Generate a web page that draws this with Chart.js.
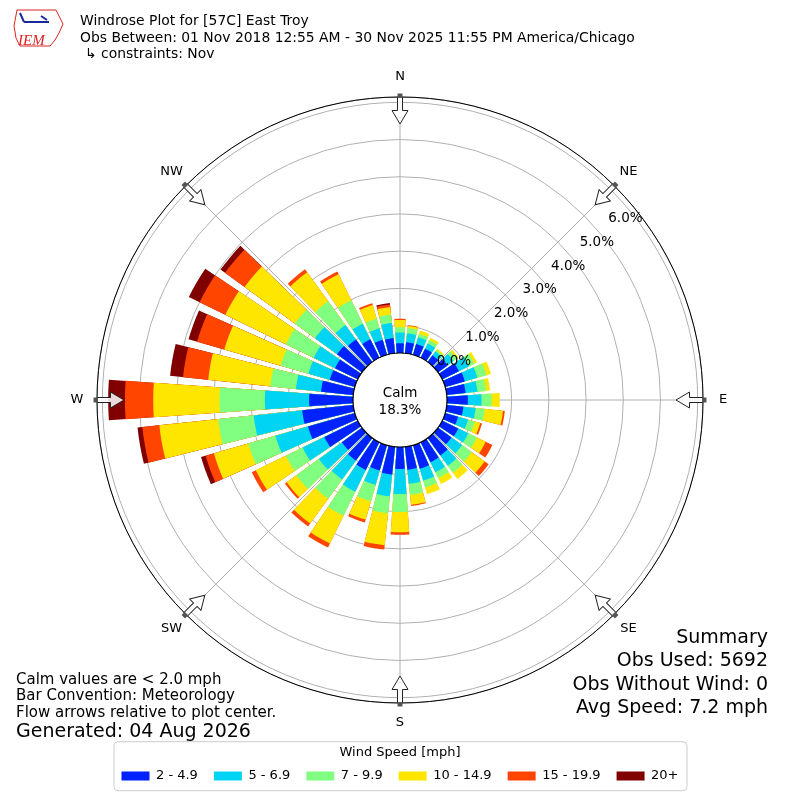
<!DOCTYPE html>
<html>
<head>
<meta charset="utf-8">
<script src="https://cdn.jsdelivr.net/npm/chart.js@4.4.0/dist/chart.umd.min.js"></script>
<style>
  html, body { margin: 0; padding: 0; background: #fff; }
</style>
</head>
<body>
<canvas id="rose" width="800" height="800"></canvas>
<script>
// wind direction bins (degrees, direction the wind blows from)
const directions = [0, 10, 20, 30, 40, 50, 60, 70, 80, 90, 100, 110, 120, 130, 140, 150, 160, 170,
  180, 190, 200, 210, 220, 230, 240, 250, 260, 270, 280, 290, 300, 310, 320, 330, 340, 350];
const speedBins = ['2 - 4.9', '5 - 6.9', '7 - 9.9', '10 - 14.9', '15 - 19.9', '20+'];
const binColors = ['#0022ff', '#00d4f4', '#80ff80', '#ffe600', '#ff4500', '#800000'];

// percent of all observations, per direction, per speed bin
const pct2to5 = [0.26, 0.30, 0.30, 0.27, 0.22, 0.32, 0.50, 0.55, 0.51, 0.56, 0.45, 0.36, 0.48, 0.45, 0.58, 0.60, 0.66, 0.62,
  0.59, 0.75, 0.71, 0.83, 0.75, 0.67, 1.00, 1.31, 1.38, 1.18, 0.87, 0.70, 0.68, 0.83, 0.75, 0.55, 0.42, 0.41];
const pct5to7 = [0.29, 0.24, 0.19, 0.16, 0.13, 0.20, 0.31, 0.35, 0.32, 0.37, 0.33, 0.28, 0.30, 0.35, 0.34, 0.30, 0.33, 0.38,
  0.67, 0.59, 0.40, 0.65, 0.63, 0.76, 0.65, 0.91, 1.31, 1.19, 0.68, 0.60, 0.64, 0.73, 0.48, 0.47, 0.32, 0.41];
const pct7to10 = [0.14, 0.14, 0.09, 0.10, 0.05, 0.10, 0.15, 0.25, 0.23, 0.27, 0.25, 0.19, 0.26, 0.32, 0.23, 0.17, 0.19, 0.30,
  0.49, 0.46, 0.46, 0.72, 0.64, 0.75, 0.50, 0.76, 0.96, 1.22, 0.69, 0.77, 0.83, 0.67, 0.79, 0.70, 0.27, 0.22];
const pct10to15 = [0.20, 0.06, 0.10, 0.07, 0.04, 0.06, 0.08, 0.13, 0.11, 0.22, 0.49, 0.15, 0.26, 0.43, 0.21, 0.18, 0.19, 0.27,
  0.54, 0.86, 0.51, 0.83, 0.82, 0.32, 0.90, 0.96, 1.59, 1.78, 1.68, 1.58, 1.81, 1.67, 0.96, 0.78, 0.38, 0.21];
const pct15to20 = [0.03, 0.02, 0, 0, 0, 0, 0, 0, 0, 0, 0.05, 0.05, 0.20, 0.13, 0, 0, 0, 0.03,
  0.07, 0.12, 0.08, 0.12, 0.10, 0.06, 0.12, 0.23, 0.46, 0.76, 0.68, 0.76, 0.77, 0.65, 0.10, 0.08, 0.05, 0.07];
const pct20up = [0, 0, 0, 0, 0, 0, 0, 0, 0, 0, 0, 0, 0, 0, 0, 0, 0, 0,
  0, 0, 0, 0, 0, 0, 0, 0.13, 0.13, 0.45, 0.35, 0.24, 0.32, 0.15, 0, 0, 0, 0.04];

const compassLabels = ['N', 'NE', 'E', 'SE', 'S', 'SW', 'W', 'NW'];
const ringTicks = [0, 1, 2, 3, 4, 5, 6];
const calmPct = 18.3;

const titleLines = ['Windrose Plot for [57C] East Troy',
  'Obs Between: 01 Nov 2018 12:55 AM - 30 Nov 2025 11:55 PM America/Chicago',
  '\u21b3 constraints: Nov'];
const noteLines = ['Calm values are < 2.0 mph', 'Bar Convention: Meteorology', 'Flow arrows relative to plot center.'];
const generatedText = 'Generated: 04 Aug 2026';
const summaryLines = ['Summary', 'Obs Used: 5692', 'Obs Without Wind: 0', 'Avg Speed: 7.2 mph'];

const FONT = "'DejaVu Sans', sans-serif";
Chart.defaults.font.family = FONT;
Chart.defaults.color = '#000';

// each direction gets an 8 degree bar and a 2 degree gap; north is split in two halves
const slotDir = [0];
const slotAngle = [4];
for (let k = 1; k < directions.length; k++) {
  slotDir.push(-1); slotAngle.push(2);
  slotDir.push(k); slotAngle.push(8);
}
slotDir.push(-1); slotAngle.push(2);
slotDir.push(0); slotAngle.push(4);

const bins = [pct2to5, pct5to7, pct7to10, pct10to15, pct15to20, pct20up];
// stacked: each bar reaches the running total of its bin
const stacked = bins.map((_, b) => directions.map((d, k) => {
  let s = 0;
  for (let j = 0; j <= b; j++) s += bins[j][k];
  return Math.round(s * 100) / 100;
}));

const datasets = bins.map((arr, b) => ({
  label: speedBins[b],
  data: slotDir.map(k => (k < 0 || arr[k] === 0) ? 0 : stacked[b][k]),
  backgroundColor: slotDir.map(k => k < 0 ? 'rgba(0,0,0,0)' : binColors[b]),
  angle: slotAngle,
  borderWidth: 0
}));

function drawArrow(ctx, cx, cy, ang, outer) {
  ctx.save();
  ctx.translate(cx, cy);
  ctx.rotate(ang);
  ctx.beginPath();
  ctx.moveTo(outer, -2.5);
  ctx.lineTo(outer - 13.5, -2.5);
  ctx.lineTo(outer - 13.5, -8);
  ctx.lineTo(outer - 27, 0);
  ctx.lineTo(outer - 13.5, 8);
  ctx.lineTo(outer - 13.5, 2.5);
  ctx.lineTo(outer, 2.5);
  ctx.closePath();
  ctx.fillStyle = 'rgba(255,255,255,0.85)';
  ctx.fill();
  ctx.strokeStyle = '#222';
  ctx.lineWidth = 1;
  ctx.stroke();
  ctx.fillStyle = '#555';
  ctx.fillRect(outer - 1, -2.5, 4.5, 5);
  ctx.restore();
}

function drawLogo(ctx) {
  ctx.save();
  ctx.strokeStyle = '#d22';
  ctx.lineWidth = 1;
  ctx.beginPath();
  ctx.moveTo(17, 10); ctx.lineTo(56, 10); ctx.lineTo(59, 16); ctx.lineTo(63, 24);
  ctx.lineTo(59, 33); ctx.lineTo(55, 40); ctx.lineTo(50, 46); ctx.lineTo(20, 46);
  ctx.lineTo(16, 38); ctx.lineTo(14, 26); ctx.closePath();
  ctx.stroke();
  ctx.strokeStyle = '#1a2a9a';
  ctx.lineWidth = 2;
  ctx.beginPath();
  ctx.moveTo(24, 22); ctx.lineTo(49, 22);
  ctx.moveTo(20, 13); ctx.lineTo(24, 22);
  ctx.moveTo(41, 16); ctx.lineTo(47, 20);
  ctx.stroke();
  ctx.fillStyle = '#d22';
  ctx.font = "italic 15px 'Liberation Serif', serif";
  ctx.textAlign = 'left';
  ctx.textBaseline = 'alphabetic';
  ctx.fillText('IEM', 18, 45);
  ctx.restore();
}

const decorations = {
  id: 'decorations',
  afterDraw(chart) {
    const ctx = chart.ctx;
    const r = chart.scales.r;
    const cx = r.xCenter, cy = r.yCenter;
    const outer = r.drawingArea;
    ctx.save();

    // outer frame of the polar axes
    ctx.beginPath();
    ctx.arc(cx, cy, outer, 0, 2 * Math.PI);
    ctx.strokeStyle = '#000';
    ctx.lineWidth = 1;
    ctx.stroke();

    // compass arrows and labels
    ctx.font = '13px ' + FONT;
    ctx.textAlign = 'center';
    ctx.textBaseline = 'middle';
    compassLabels.forEach((lab, i) => {
      drawArrow(ctx, cx, cy, r.getIndexAngle(i) - Math.PI / 2, outer);
      const p = r.getPointPosition(i, outer + 20);
      ctx.fillStyle = '#000';
      ctx.fillText(lab, p.x, p.y);
    });

    // calm circle
    const calmR = r.getDistanceFromCenterForValue(0);
    ctx.beginPath();
    ctx.arc(cx, cy, calmR, 0, 2 * Math.PI);
    ctx.fillStyle = '#fff';
    ctx.fill();
    ctx.strokeStyle = '#000';
    ctx.lineWidth = 1.2;
    ctx.stroke();
    ctx.fillStyle = '#000';
    ctx.font = '13.5px ' + FONT;
    ctx.textBaseline = 'alphabetic';
    ctx.fillText('Calm', cx, cy - 3);
    ctx.fillText(calmPct.toFixed(1) + '%', cx, cy + 14);

    // ring labels
    ctx.textBaseline = 'middle';
    const la = (50.2 - 90) * Math.PI / 180;
    ringTicks.forEach(v => {
      const d = r.getDistanceFromCenterForValue(v);
      ctx.fillText(v.toFixed(1) + '%', cx + d * Math.cos(la) + 17.8, cy + d * Math.sin(la) - 8.6);
    });

    // header
    drawLogo(ctx);
    ctx.textAlign = 'left';
    ctx.textBaseline = 'alphabetic';
    ctx.font = '13.9px ' + FONT;
    ctx.fillText(titleLines[0], 80, 24.5);
    ctx.fillText(titleLines[1], 80, 41.5);
    ctx.fillText(titleLines[2], 85, 57.5);

    // notes bottom left
    ctx.font = '15px ' + FONT;
    noteLines.forEach((t, i) => ctx.fillText(t, 16, 683.5 + i * 16.6));
    ctx.font = '19px ' + FONT;
    ctx.fillText(generatedText, 16, 736.5);

    // summary bottom right
    ctx.textAlign = 'right';
    summaryLines.forEach((t, i) => ctx.fillText(t, 768, 643 + i * 23.3));

    // legend frame
    const lg = chart.legend;
    const hb = lg.legendHitBoxes;
    if (hb && hb.length) {
      const x0 = hb[0].left - 8;
      const x1 = hb[hb.length - 1].left + hb[hb.length - 1].width + 8;
      ctx.beginPath();
      ctx.roundRect(x0 + 0.5, lg.top - 1.5, x1 - x0, 49, 4);
      ctx.strokeStyle = '#cccccc';
      ctx.lineWidth = 1;
      ctx.stroke();
    }
    ctx.restore();
  }
};

new Chart(document.getElementById('rose'), {
  type: 'polarArea',
  data: { labels: compassLabels, datasets: datasets },
  options: {
    responsive: false,
    animation: false,
    devicePixelRatio: 1,
    layout: { padding: { top: 57, left: 97, right: 97, bottom: 7.5 } },
    scales: {
      r: {
        type: 'radialLinear',
        min: -1.263,
        max: 6.88,
        bounds: 'data',
        startAngle: 0,
        z: 1,
        ticks: { display: false, stepSize: 1, includeBounds: false },
        grid: {
          circular: true,
          lineWidth: 1,
          color: ctx => (ctx.tick && ctx.tick.value < 0) ? 'rgba(0,0,0,0)' : '#b0b0b0'
        },
        angleLines: { display: true, color: '#b0b0b0', lineWidth: 1 },
        pointLabels: { display: false }
      }
    },
    plugins: {
      tooltip: { enabled: false },
      legend: {
        position: 'bottom',
        onClick: () => {},
        title: {
          display: true,
          text: 'Wind Speed [mph]',
          color: '#000',
          font: { size: 13 },
          padding: { top: 3, bottom: -8.3 }
        },
        labels: {
          color: '#000',
          font: { size: 13 },
          boxWidth: 28,
          boxHeight: 9,
          padding: 16,
          generateLabels: chart => chart.data.datasets.map((ds, i) => ({
            text: ds.label,
            fillStyle: binColors[i],
            strokeStyle: binColors[i],
            lineWidth: 0,
            hidden: false,
            datasetIndex: i
          }))
        }
      }
    }
  },
  plugins: [decorations]
});
</script>
</body>
</html>
